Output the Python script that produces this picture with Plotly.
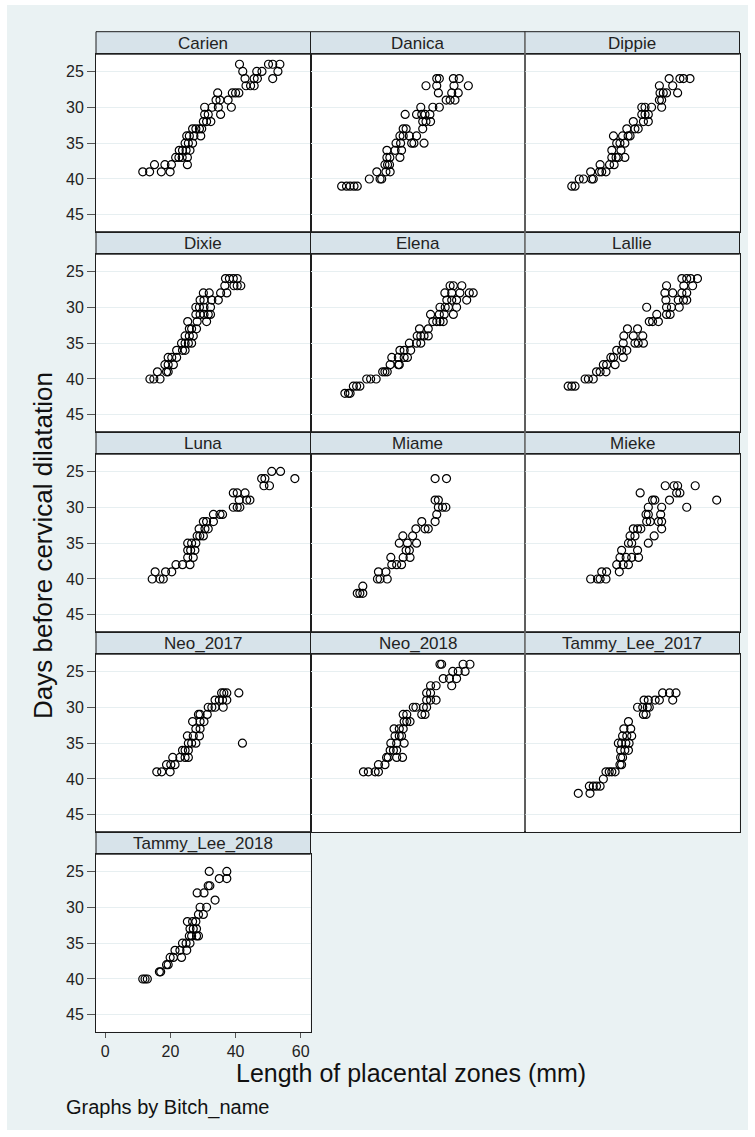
import plotly.graph_objects as go

# ---------------------------------------------------------------------------
# Data: length of placental zones (mm) against days before cervical dilatation,
# one scatter panel per bitch
# ---------------------------------------------------------------------------
panel_names = ["Carien", "Danica", "Dippie", "Dixie", "Elena", "Lallie",
               "Luna", "Miame", "Mieke", "Neo_2017", "Neo_2018",
               "Tammy_Lee_2017", "Tammy_Lee_2018"]

x_ticks = [0, 20, 40, 60]
y_ticks = [25, 30, 35, 40, 45]

carien_len = [11.5, 13.6, 17.2, 19.9, 15.1, 18.3, 20.3, 25.2, 21.6, 22.6, 23.6, 25.2,
              22.7, 23.7, 24.8, 26.0, 24.5, 25.5, 26.8, 25.0, 25.8, 27.2, 29.3,
              26.8, 27.8, 28.9, 29.6, 30.1, 31.1, 32.4, 30.5, 31.6, 35.4,
              30.5, 32.8, 34.7, 38.7, 34.0, 35.2, 37.7, 34.5, 39.0, 40.0, 41.0,
              43.2, 44.6, 45.7, 42.9, 45.7, 46.7, 51.4, 42.2, 46.5, 48.1, 53.0,
              41.2, 50.1, 51.4, 53.6]
carien_days = [39, 39, 39, 39, 38, 38, 38, 38, 37, 37, 37, 37,
               36, 36, 36, 36, 35, 35, 35, 34, 34, 34, 34,
               33, 33, 33, 33, 32, 32, 32, 31, 31, 31,
               30, 30, 30, 30, 29, 29, 29, 28, 28, 28, 28,
               27, 27, 27, 26, 26, 26, 26, 25, 25, 25, 25,
               24, 24, 24, 24]

danica_len = [6.7, 8.2, 9.3, 10.5, 11.5, 15.2, 18.5, 19.0, 17.5, 20.3, 21.6,
              20.0, 20.8, 21.4, 20.6, 21.5, 24.6, 20.6, 23.1, 25.1,
              23.4, 24.8, 28.2, 28.9, 32.0, 24.6, 25.6, 27.5, 29.7,
              25.6, 26.5, 31.6, 31.6, 32.6, 34.0, 26.2, 29.7, 31.3, 32.3, 33.8,
              31.0, 34.7, 36.7, 38.8, 40.0, 41.5, 36.4, 40.5, 42.5,
              32.6, 35.9, 41.2, 45.6, 35.9, 36.7, 41.0, 42.8]
danica_days = [41, 41, 41, 41, 41, 40, 40, 40, 39, 39, 39,
               38, 38, 38, 37, 37, 37, 36, 36, 36,
               35, 35, 35, 35, 35, 34, 34, 34, 34,
               33, 33, 33, 32, 32, 32, 31, 31, 31, 31, 31,
               30, 30, 30, 29, 29, 29, 28, 28, 28,
               27, 27, 27, 27, 26, 26, 26, 26]

dippie_len = [11.5, 12.5, 13.8, 15.1, 17.6, 18.1, 17.3, 20.0, 20.7, 22.0,
              20.2, 23.1, 24.5, 23.8, 25.1, 25.8, 27.8, 23.8, 26.6,
              25.3, 26.3, 27.8, 24.3, 27.1, 28.8, 29.4, 28.4, 30.9, 31.9,
              30.4, 33.5, 35.0, 33.0, 34.0, 35.0, 33.0, 34.0, 36.0, 39.1,
              38.4, 39.1, 38.6, 39.6, 40.6, 44.0, 38.4, 42.5,
              41.4, 44.7, 45.8, 47.8]
dippie_days = [41, 41, 40, 40, 40, 40, 39, 39, 39, 39,
               38, 38, 38, 37, 37, 37, 37, 36, 36,
               35, 35, 35, 34, 34, 34, 34, 33, 33, 33,
               32, 32, 32, 31, 31, 31, 30, 30, 30, 30,
               29, 29, 28, 28, 28, 28, 27, 27,
               26, 26, 26, 26]

dixie_len = [13.7, 14.9, 16.8, 16.0, 18.8, 19.3, 18.3, 19.3, 20.9, 19.3, 20.4, 21.9,
             21.9, 23.7, 24.5, 23.4, 24.5, 25.5, 26.5, 24.5, 25.8, 27.0,
             25.8, 26.5, 28.0, 25.3, 28.2, 31.1, 27.8, 29.1, 30.3, 31.6, 32.3,
             27.8, 28.9, 30.3, 32.3, 29.1, 30.3, 32.7, 34.7, 30.1, 31.9, 35.4, 37.3,
             36.7, 39.5, 40.5, 41.6, 36.9, 38.1, 39.3, 40.5]
dixie_days = [40, 40, 40, 39, 39, 39, 38, 38, 38, 37, 37, 37,
              36, 36, 36, 35, 35, 35, 35, 34, 34, 34,
              33, 33, 33, 32, 32, 32, 31, 31, 31, 31, 31,
              30, 30, 30, 30, 29, 29, 29, 29, 28, 28, 28, 28,
              27, 27, 27, 27, 26, 26, 26, 26]

elena_len = [7.7, 8.8, 9.3, 10.3, 11.3, 12.3, 14.4, 15.6, 17.3, 19.3, 20.0, 20.7,
             21.6, 24.1, 24.4, 22.1, 24.1, 25.9, 26.9, 24.6, 25.9, 27.9,
             27.5, 29.7, 31.0, 29.9, 31.0, 32.0, 33.3, 30.6, 33.3,
             34.7, 35.9, 36.9, 37.9, 34.0, 36.7, 38.2, 41.0,
             36.9, 38.5, 39.5, 42.0, 39.0, 40.5, 42.0, 45.1,
             38.4, 40.5, 43.0, 45.9, 47.1, 40.0, 41.0, 43.6]
elena_days = [42, 42, 42, 41, 41, 41, 40, 40, 40, 39, 39, 39,
              38, 38, 38, 37, 37, 37, 37, 36, 36, 36,
              35, 35, 35, 34, 34, 34, 34, 33, 33,
              32, 32, 32, 32, 31, 31, 31, 31,
              30, 30, 30, 30, 29, 29, 29, 29,
              28, 28, 28, 28, 28, 27, 27, 27]

lallie_len = [10.4, 11.5, 12.5, 15.6, 16.6, 18.1, 19.1, 20.2, 22.0, 21.2, 22.2, 24.8,
              23.5, 24.3, 27.3, 25.3, 26.8, 28.4, 27.3, 30.9, 31.9, 33.5,
              27.5, 30.4, 33.3, 28.6, 31.7, 35.3, 36.3, 38.1, 37.6, 40.6, 41.7,
              34.5, 40.6, 42.1, 44.5, 40.4, 44.2, 45.8, 46.8,
              40.1, 42.5, 45.3, 46.8, 40.6, 45.9, 48.6, 45.3, 46.8, 48.0, 50.1]
lallie_days = [41, 41, 41, 40, 40, 40, 39, 39, 39, 38, 38, 38,
               37, 37, 37, 36, 36, 36, 35, 35, 35, 35,
               34, 34, 34, 33, 33, 32, 32, 32, 31, 31, 31,
               30, 30, 30, 30, 29, 29, 29, 29,
               28, 28, 28, 28, 27, 27, 27, 26, 26, 26, 26]

luna_len = [14.4, 16.8, 17.8, 15.3, 18.5, 20.4, 21.7, 23.7, 26.0, 25.3, 27.0,
            25.3, 26.2, 27.5, 25.3, 26.5, 27.8, 28.2, 29.0, 30.1, 28.8, 30.6, 31.6,
            30.1, 31.1, 33.2, 33.2, 35.2, 36.0, 39.3, 40.5, 41.3, 41.1, 43.4, 44.4,
            39.3, 40.5, 42.9, 48.7, 50.4, 48.0, 49.0, 58.2, 51.1, 53.8]
luna_days = [40, 40, 40, 39, 39, 39, 38, 38, 38, 37, 37,
             36, 36, 36, 35, 35, 35, 34, 34, 34, 33, 33, 33,
             32, 32, 32, 31, 31, 31, 30, 30, 30, 29, 29, 29,
             28, 28, 28, 27, 27, 26, 26, 26, 25, 25]

miame_len = [11.5, 12.3, 13.2, 13.2, 17.7, 18.5, 20.7, 18.0, 20.3, 22.1, 23.6, 25.1,
             21.8, 25.6, 27.7, 26.5, 27.5, 24.4, 26.9, 29.7, 25.5, 28.5,
             29.5, 32.3, 33.3, 31.3, 35.4, 35.9, 36.4, 37.7, 38.7, 35.4, 36.4,
             35.4, 38.9]
miame_days = [42, 42, 42, 41, 40, 40, 40, 39, 39, 38, 38, 38,
              37, 37, 37, 36, 36, 35, 35, 35, 34, 34,
              33, 33, 33, 32, 32, 31, 30, 30, 30, 29, 29,
              26, 26]

mieke_len = [17.3, 19.4, 20.2, 22.0, 20.7, 22.2, 26.1, 25.3, 27.3, 28.9,
             26.3, 28.2, 29.9, 32.0, 26.8, 31.7, 28.9, 29.9, 35.0, 29.4, 30.9, 36.8,
             30.4, 31.7, 32.7, 39.1, 34.5, 35.6, 38.1, 39.1, 34.3, 35.0, 38.8,
             35.0, 39.1, 46.8, 36.3, 37.0, 41.5, 56.0, 32.5, 43.7, 44.7,
             40.2, 42.9, 44.0, 49.4]
mieke_days = [40, 40, 40, 40, 39, 39, 39, 38, 38, 38,
              37, 37, 37, 37, 36, 36, 35, 35, 35, 34, 34, 34,
              33, 33, 33, 33, 32, 32, 32, 32, 31, 31, 31,
              30, 30, 30, 29, 29, 29, 29, 28, 28, 28,
              27, 27, 27, 27]

neo2017_len = [15.8, 17.3, 19.9, 18.8, 20.1, 21.4, 20.7, 22.9, 24.5, 25.5,
               23.7, 24.5, 25.5, 25.5, 26.5, 27.8, 42.1, 25.2, 27.0, 28.9,
               27.8, 29.1, 26.8, 29.1, 30.3, 28.6, 29.1, 31.3,
               31.6, 32.7, 33.7, 36.2, 33.7, 35.0, 36.0, 37.3, 35.7, 36.4, 37.3, 41.0]
neo2017_days = [39, 39, 39, 38, 38, 38, 37, 37, 37, 37,
                36, 36, 36, 35, 35, 35, 35, 34, 34, 34,
                33, 33, 32, 32, 32, 31, 31, 31,
                30, 30, 30, 30, 29, 29, 29, 29, 28, 28, 28, 28]

neo2018_len = [13.4, 14.9, 17.0, 18.0, 18.0, 20.0, 20.5, 21.0, 23.6, 25.4,
               21.6, 22.6, 23.6, 21.8, 23.6, 25.9, 23.1, 24.4, 25.1, 22.8, 24.4, 25.6,
               25.9, 26.7, 27.7, 25.6, 26.7, 31.3, 32.3, 28.7, 29.5, 31.8, 32.8,
               32.8, 34.0, 35.7, 32.8, 34.0, 34.0, 35.7, 40.5, 37.9, 39.8, 42.0,
               40.8, 42.5, 44.6, 36.9, 37.4, 44.0, 46.1]
neo2018_days = [39, 39, 39, 39, 38, 38, 37, 37, 37, 37,
                36, 36, 36, 35, 35, 35, 34, 34, 34, 33, 33, 33,
                32, 32, 32, 31, 31, 31, 31, 30, 30, 30, 30,
                29, 29, 29, 28, 28, 27, 27, 27, 26, 26, 26,
                25, 25, 25, 24, 24, 24, 24]

tammy2017_len = [13.5, 17.1, 16.9, 18.1, 19.1, 20.2, 21.2, 22.0, 23.0, 23.8, 24.8,
                 26.3, 26.8, 26.5, 27.1, 26.5, 27.8, 28.9, 25.8, 26.8, 28.1, 29.1,
                 27.1, 28.4, 29.9, 27.5, 29.6, 28.9, 33.5, 34.3,
                 31.7, 33.3, 34.7, 35.3, 33.7, 35.0, 37.1, 38.4, 42.5,
                 39.4, 41.5, 43.5]
tammy2017_days = [42, 42, 41, 41, 41, 41, 40, 39, 39, 39, 39,
                  38, 38, 37, 37, 36, 36, 36, 35, 35, 35, 35,
                  34, 34, 34, 33, 33, 32, 31, 31,
                  30, 30, 30, 30, 29, 29, 29, 29, 29,
                  28, 28, 28]

tammy2018_len = [11.5, 12.2, 12.9, 16.6, 17.0, 18.8, 19.3, 19.9, 20.9, 23.4,
                 21.4, 22.9, 25.0, 23.7, 24.8, 26.0, 25.8, 26.5, 28.0, 28.6,
                 26.0, 27.0, 28.0, 25.2, 26.8, 27.8, 28.6, 30.1, 29.1, 31.1,
                 33.7, 28.2, 30.3, 31.6, 32.1, 35.0, 37.3, 31.9, 37.3]
tammy2018_days = [40, 40, 40, 39, 39, 38, 38, 37, 37, 37,
                  36, 36, 36, 35, 35, 35, 34, 34, 34, 34,
                  33, 33, 33, 32, 32, 32, 31, 31, 30, 30,
                  29, 28, 28, 27, 27, 26, 26, 25, 25]

panel_len = [carien_len, danica_len, dippie_len, dixie_len, elena_len, lallie_len,
             luna_len, miame_len, mieke_len, neo2017_len, neo2018_len,
             tammy2017_len, tammy2018_len]
panel_days = [carien_days, danica_days, dippie_days, dixie_days, elena_days, lallie_days,
              luna_days, miame_days, mieke_days, neo2017_days, neo2018_days,
              tammy2017_days, tammy2018_days]

# ---------------------------------------------------------------------------
# Page geometry (pixels)
# ---------------------------------------------------------------------------
W, H = 755, 1137
COL_LEFT = [96.0, 310.5, 525.0]
COL_W = 214.5
ROW_TOP0 = 31.7
ROW_STEP = 200.0
HEAD_H = 22.5
X_RANGE = [-2.86, 63.0]
Y_RANGE = [47.35, 22.6]          # reversed: fewer days at the top

FONT = "Liberation Sans, Arial, Helvetica, sans-serif"
BG = "#EAF2F3"
HEAD_FILL = "#D7E3EA"
GRID = "#E7EFF1"
INK = "#1e1e1e"


def px(x):
    return x / W


def py(y):
    return 1 - y / H


fig = go.Figure()
shapes = [dict(type="rect", xref="paper", yref="paper", layer="below",
               x0=px(7), x1=px(748), y0=py(5), y1=py(1130),
               fillcolor=BG, line=dict(width=0))]
annotations = []
layout_axes = {}

n_panels = len(panel_names)
for i in range(n_panels):
    r, c = divmod(i, 3)
    left = COL_LEFT[c]
    right = left + COL_W
    top = ROW_TOP0 + r * ROW_STEP
    head_bottom = top + HEAD_H
    bottom = top + ROW_STEP

    n = i + 1
    xname = "x" if n == 1 else f"x{n}"
    yname = "y" if n == 1 else f"y{n}"
    xkey = "xaxis" if n == 1 else f"xaxis{n}"
    ykey = "yaxis" if n == 1 else f"yaxis{n}"

    # only the bottom panel of the first column carries the x scale,
    # only the first column carries the y scale
    show_x = (i == n_panels - 1)
    show_y = (c == 0)

    layout_axes[xkey] = dict(
        domain=[px(left), px(right)], range=X_RANGE, anchor=yname,
        showgrid=False, zeroline=False,
        showline=True, mirror=True, linecolor=INK, linewidth=1,
        tickvals=x_ticks, showticklabels=show_x,
        ticks="outside" if show_x else "", ticklen=5, tickwidth=1, tickcolor="#555",
        tickfont=dict(family=FONT, size=16, color="#222"),
        fixedrange=True,
    )
    layout_axes[ykey] = dict(
        domain=[py(bottom), py(head_bottom)], range=Y_RANGE, anchor=xname,
        showgrid=True, gridcolor=GRID, gridwidth=1.3, zeroline=False,
        showline=True, mirror=True, linecolor=INK, linewidth=1,
        tickvals=y_ticks, showticklabels=show_y,
        ticks="outside" if show_y else "", ticklen=8, tickwidth=1, tickcolor="#555",
        tickfont=dict(family=FONT, size=16, color="#222"),
        fixedrange=True,
    )

    # white plot region and the title strip above it
    shapes.append(dict(type="rect", xref="paper", yref="paper", layer="below",
                       x0=px(left), x1=px(right), y0=py(bottom), y1=py(head_bottom),
                       fillcolor="white", line=dict(width=0)))
    shapes.append(dict(type="rect", xref="paper", yref="paper", layer="below",
                       x0=px(left), x1=px(right), y0=py(head_bottom), y1=py(top),
                       fillcolor=HEAD_FILL, line=dict(color=INK, width=1)))
    annotations.append(dict(text=panel_names[i], xref="paper", yref="paper",
                            x=px((left + right) / 2), y=py(top + HEAD_H / 2 + 0.5),
                            xanchor="center", yanchor="middle", showarrow=False,
                            font=dict(family=FONT, size=17, color="#222")))

    fig.add_trace(go.Scatter(
        x=panel_len[i], y=panel_days[i], mode="markers",
        xaxis=xname, yaxis=yname, showlegend=False, hoverinfo="skip",
        marker=dict(symbol="circle-open", size=8, color="black",
                    line=dict(width=1.2, color="black")),
    ))

# lighter separator between the second and third columns
shapes.append(dict(type="line", xref="paper", yref="paper", layer="above",
                   x0=px(COL_LEFT[2]), x1=px(COL_LEFT[2]),
                   y0=py(ROW_TOP0 + 0.5), y1=py(ROW_TOP0 + 4 * ROW_STEP - 0.5),
                   line=dict(color="#8a8a8a", width=1.2)))

# axis titles and the by-variable note
annotations.append(dict(text="Days before cervical dilatation", xref="paper", yref="paper",
                        x=px(43), y=py(546), textangle=-90,
                        xanchor="center", yanchor="middle", showarrow=False,
                        font=dict(family=FONT, size=26, color="#111")))
annotations.append(dict(text="Length of placental zones (mm)", xref="paper", yref="paper",
                        x=px(411), y=py(1073),
                        xanchor="center", yanchor="middle", showarrow=False,
                        font=dict(family=FONT, size=25, color="#111")))
annotations.append(dict(text="Graphs by Bitch_name", xref="paper", yref="paper",
                        x=px(64), y=py(1107),
                        xanchor="left", yanchor="middle", showarrow=False,
                        font=dict(family=FONT, size=20, color="#111")))

fig.update_layout(
    width=W, height=H, autosize=False,
    margin=dict(l=0, r=0, t=0, b=0, pad=0),
    paper_bgcolor="white", plot_bgcolor="rgba(0,0,0,0)",
    shapes=shapes, annotations=annotations,
    **layout_axes,
)

fig.write_html("out.html", config={"displayModeBar": False})
